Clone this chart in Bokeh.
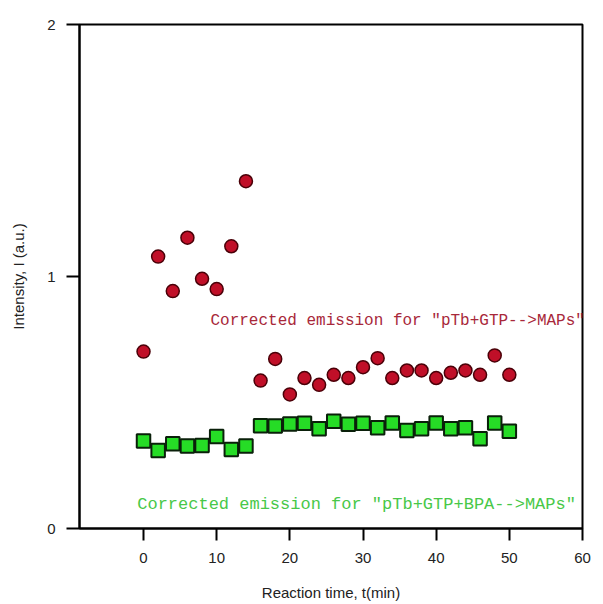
from bokeh.plotting import figure
from bokeh.models import ColumnDataSource, Label, FixedTicker, Range1d
from bokeh.embed import file_html
from bokeh.resources import INLINE

# Data
time_min = [0, 2, 4, 6, 8, 10, 12, 14, 16, 18, 20, 22, 24, 26, 28, 30, 32, 34, 36, 38, 40, 42, 44, 46, 48, 50]
intensity_gtp = [0.702, 1.079, 0.942, 1.154, 0.991, 0.950, 1.120, 1.378,
                 0.587, 0.673, 0.532, 0.597, 0.570, 0.610, 0.597, 0.640, 0.676,
                 0.597, 0.627, 0.627, 0.597, 0.618, 0.627, 0.610, 0.687, 0.610]
intensity_bpa = [0.347, 0.310, 0.336, 0.327, 0.329, 0.365, 0.313, 0.327,
                 0.408, 0.407, 0.415, 0.418, 0.396, 0.426, 0.414, 0.418, 0.400,
                 0.419, 0.389, 0.396, 0.419, 0.396, 0.400, 0.356, 0.419, 0.386]
x_ticks = [0, 10, 20, 30, 40, 50, 60]
y_ticks = [0, 1, 2]
label_gtp = 'Corrected emission for "pTb+GTP-->MAPs"'
label_bpa = 'Corrected emission for "pTb+GTP+BPA-->MAPs"'

src = ColumnDataSource(dict(t=time_min, a=intensity_gtp, b=intensity_bpa))

p = figure(width=603, height=604, output_backend="svg", toolbar_location=None,
           x_range=Range1d(-8.75, 60), y_range=Range1d(0, 2),
           min_border_left=79, min_border_right=21, min_border_top=24, min_border_bottom=76)
p.grid.visible = False
p.outline_line_color = "black"
p.outline_line_width = 2
p.background_fill_color = "white"
p.border_fill_color = "white"

for ax in (p.xaxis[0], p.yaxis[0]):
    ax.axis_line_width = 2
    ax.axis_line_color = "black"
    ax.major_tick_line_width = 2
    ax.major_tick_in = 0
    ax.minor_tick_line_color = None
    ax.major_label_text_font = "Liberation Sans"
    ax.major_label_text_font_size = "15px"
    ax.major_label_text_color = "#222222"
    ax.axis_label_text_font = "Liberation Sans"
    ax.axis_label_text_font_size = "15px"
    ax.axis_label_text_font_style = "normal"
    ax.axis_label_text_color = "#222222"

p.xaxis.ticker = FixedTicker(ticks=x_ticks)
p.yaxis.ticker = FixedTicker(ticks=y_ticks)
p.xaxis.major_tick_out = 12
p.yaxis.major_tick_out = 13
p.xaxis.major_label_standoff = 12
p.yaxis.major_label_standoff = 11
p.xaxis.axis_label = "Reaction time, t(min)"
p.yaxis.axis_label = "Intensity, I (a.u.)"
p.xaxis.axis_label_standoff = 18
p.yaxis.axis_label_standoff = 17

p.scatter("t", "a", source=src, marker="circle", size=13,
          fill_color="#c00f28", line_color="#4a0008", line_width=1.5)
p.scatter("t", "b", source=src, marker="square", size=13.5,
          fill_color="#26dc26", line_color="#0a200a", line_width=2)

p.add_layout(Label(x=9.15, y=0.825, text=label_gtp, text_color="#a8283a",
                   text_font="Liberation Mono", text_font_size="16px",
                   text_baseline="middle", text_align="left"))
p.add_layout(Label(x=-0.86, y=0.095, text=label_bpa, text_color="#48c848",
                   text_font="Liberation Mono", text_font_size="17px",
                   text_baseline="middle", text_align="left"))

open("out.html", "w").write(file_html(p, INLINE))
